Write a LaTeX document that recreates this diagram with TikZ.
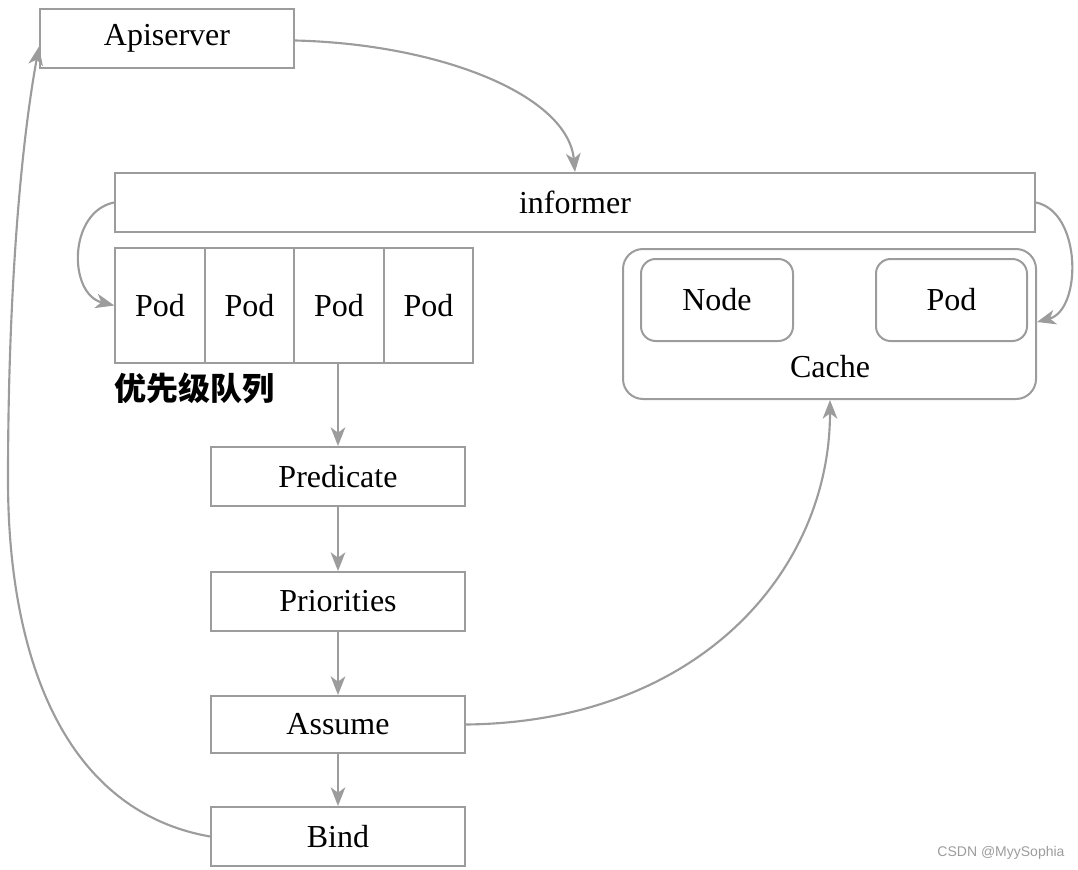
\documentclass[tikz,border=0pt]{standalone}
\usepackage{fontspec}
\setmainfont{Liberation Serif}
\newfontfamily\cjk{Noto Sans CJK SC}
\newfontfamily\wmfont{Liberation Sans}
\usetikzlibrary{arrows.meta}
\definecolor{lg}{HTML}{9C9C9C}
\begin{document}
\begin{tikzpicture}[x=0.75pt,y=-0.75pt,
  every node/.style={font=\fontsize{24}{28}\selectfont, text=black},
  box/.style={draw=lg, line width=1.5pt, minimum width=190.5pt, minimum height=44.25pt, inner sep=0pt},
  cell/.style={draw=lg, line width=1.5pt, minimum width=67.1pt, minimum height=86.25pt, inner sep=0pt},
  rbox/.style={draw=lg, line width=1.5pt, rounded corners=11pt, inner sep=0pt},
  conn/.style={draw=lg, line width=1.6pt, -{Stealth[length=14pt,width=11pt,inset=4pt]}}]
\useasboundingbox (0,0) rectangle (1078,870);
% nodes
\node[box] (api) at (167,38.5) {Apiserver};
\node[box, minimum width=690pt] (inf) at (575,202.5) {informer};
\node[cell] (p1) at (160,305.5) {Pod};
\node[cell] (p2) at (249.5,305.5) {Pod};
\node[cell] (p3) at (339,305.5) {Pod};
\node[cell] (p4) at (428.5,305.5) {Pod};
\node[anchor=west, inner sep=0pt, font=\cjk\bfseries\fontsize{24}{26}\selectfont] (ql) at (114,388) {优先级队列};
\node[rbox, rounded corners=15pt, minimum width=309.75pt, minimum height=112.5pt] (cache) at (829.5,324) {};
\node[rbox, minimum width=114pt, minimum height=61.5pt] (cn) at (717,300) {Node};
\node[rbox, minimum width=113.25pt, minimum height=61.5pt] (cp) at (951.5,300) {Pod};
\node (cl) at (830,367) {Cache};
\node[box] (pred) at (338,476.5) {Predicate};
\node[box] (prio) at (338,601.5) {Priorities};
\node[box, minimum height=42.75pt] (assume) at (338,724.5) {Assume};
\node[box] (bind) at (338,836.5) {Bind};
\node[font=\wmfont\fontsize{10.5}{12}\selectfont, text=lg] (wm) at (1001,853) {CSDN @MyySophia};
% connectors
\draw[conn] (p3.south -| pred.north) -- (pred.north);
\draw[conn] (pred.south) -- (prio.north);
\draw[conn] (prio.south) -- (assume.north);
\draw[conn] (assume.south) -- (bind.north);
\draw[conn] (api.east) ++(0,2) .. controls (440,44) and (568,95) .. (inf.north -| 575,0);
\draw[conn] (inf.west) .. controls (68,212) and (68,294) .. (p1.west);
\draw[conn] (inf.east) .. controls (1082,212) and (1082,310) .. (cache.east |- 0,322);
\draw[conn] (assume.east) .. controls (700,722) and (830,570) .. (cache.south -| 830,0);
\draw[conn] (bind.west) .. controls (60,810) and (8,650) .. (8,480) .. controls (8,300) and (20,150) .. ([yshift=-6pt]api.west);
\end{tikzpicture}
\end{document}
